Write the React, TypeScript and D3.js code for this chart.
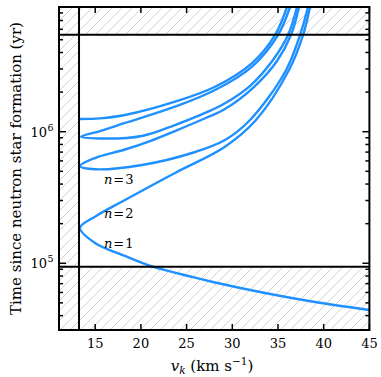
import React from 'react';
import * as d3 from 'd3';

// ---------- data ----------
const xTicks = [15, 20, 25, 30, 35, 40, 45];
const yMajorTicks = [1e5, 1e6];
const yMinorTicks = [4e4, 5e4, 6e4, 7e4, 8e4, 9e4, 2e5, 3e5, 4e5, 5e5, 6e5, 7e5, 8e5, 9e5, 2e6, 3e6, 4e6, 5e6, 6e6, 7e6, 8e6];
const xDomain = [11.04, 45];
const yDomain = [3.11e4, 8.87e6];

const vMin = 13.23; // vertical limit (km/s)
const tLow = 9.4e4; // lower age limit (yr)
const tHigh = 5.46e6; // upper age limit (yr)

// top curve (starts at the velocity limit)
const curveTopV = [13.34, 15.53, 18.26, 23.73, 28.11, 32.16, 34.67, 35.99];
const curveTopT = [1.249e6, 1.264e6, 1.339e6, 1.69e6, 2.197e6, 3.327e6, 5.43e6, 8.865e6];

// n = 3 curve (upper branch from top, vertex, lower branch back to top)
const curveN3V = [36.31, 35.0, 32.16, 28.11, 23.73, 18.26, 15.53, 13.45, 15.53, 20.12, 23.73, 27.34, 29.2, 32.05, 34.45, 36.1, 37.08];
const curveN3T = [8.865e6, 5.43e6, 3.129e6, 2.074e6, 1.549e6, 1.165e6, 1.012e6, 9.162e5, 8.878e5, 9.275e5, 1.124e6, 1.419e6, 1.644e6, 2.264e6, 3.506e6, 5.43e6, 8.865e6];

// n = 2 curve
const curveN2V = [37.3, 36.42, 34.89, 32.48, 29.2, 27.34, 23.73, 21.0, 18.26, 14.98, 13.34, 14.98, 20.12, 25.59, 29.2, 31.94, 35.77, 37.41, 38.28];
const curveN2T = [8.865e6, 5.43e6, 3.445e6, 2.225e6, 1.488e6, 1.293e6, 1.012e6, 8.498e5, 7.323e5, 6.31e5, 5.488e5, 5.181e5, 5.585e5, 6.888e5, 8.648e5, 1.227e6, 2.843e6, 5.43e6, 8.865e6];

// n = 1 curve (upper branch from top, vertex, lower branch to right edge)
const curveN1V = [38.5, 37.74, 36.2, 32.59, 29.2, 23.73, 18.26, 14.98, 13.34, 14.98, 18.26, 21.21, 25.59, 28.11, 33.58, 39.05, 45.0];
const curveN1T = [8.865e6, 5.43e6, 2.944e6, 1.227e6, 7.691e5, 4.857e5, 3.027e5, 2.261e5, 1.855e5, 1.426e5, 1.136e5, 9.456e4, 7.871e4, 7.147e4, 5.948e4, 5.08e4, 4.417e4];

const nLabels = ['3', '2', '1'];
const nLabelV = [15.96, 15.96, 15.96];
const nLabelT = [4.0e5, 2.21e5, 1.31e5];

// ---------- layout ----------
const W = 381;
const H = 377;
const left = 59;
const right = 369.4;
const top = 7;
const bottom = 330;
const BLUE = '#1e90ff';
const FONT = '"DejaVu Serif", serif';

export default function App() {
  const x = d3.scaleLinear().domain(xDomain).range([left, right]);
  const y = d3.scaleLog().domain(yDomain).range([bottom, top]);

  const line = d3
    .line<[number, number]>()
    .x((d) => x(d[0]))
    .y((d) => y(d[1]))
    .curve(d3.curveCatmullRom.alpha(0.5));

  const zip = (vs: number[], ts: number[]) => vs.map((v, i) => [v, ts[i]] as [number, number]);
  const curves = [
    zip(curveTopV, curveTopT),
    zip(curveN3V, curveN3T),
    zip(curveN2V, curveN2T),
    zip(curveN1V, curveN1T),
  ];

  const xv = x(vMin);
  const yl = y(tLow);
  const yh = y(tHigh);

  return (
    <svg width={W} height={H} style={{ position: 'absolute', left: 0, top: 0, background: '#fff' }} fontFamily={FONT}>
      <defs>
        <pattern id="hatch" patternUnits="userSpaceOnUse" width={10} height={10}>
          <path d="M0,10 L10,0 M-2.5,2.5 L2.5,-2.5 M7.5,12.5 L12.5,7.5" stroke="#c4c4c4" strokeWidth={0.8} />
        </pattern>
        <clipPath id="plot">
          <rect x={left} y={top} width={right - left} height={bottom - top} />
        </clipPath>
        <clipPath id="plotRight">
          <rect x={xv} y={top} width={right - xv} height={bottom - top} />
        </clipPath>
      </defs>
      <rect x={0} y={0} width={W} height={H} fill="#fff" />

      {/* hatched excluded regions */}
      <g clipPath="url(#plot)">
        <rect x={left} y={top} width={xv - left} height={bottom - top} fill="url(#hatch)" />
        <rect x={xv} y={yl} width={right - xv} height={bottom - yl} fill="url(#hatch)" />
        <rect x={xv} y={top} width={right - xv} height={yh - top} fill="url(#hatch)" />
      </g>

      {/* curves */}
      <g clipPath="url(#plotRight)">
        {curves.map((c, i) => (
          <path key={i} d={line(c) || ''} fill="none" stroke={BLUE} strokeWidth={2.4} strokeLinejoin="round" />
        ))}
      </g>

      {/* limit lines */}
      <line x1={xv} x2={xv} y1={top} y2={bottom} stroke="#000" strokeWidth={2} />
      <line x1={left} x2={right} y1={yl} y2={yl} stroke="#000" strokeWidth={2} />
      <line x1={left} x2={right} y1={yh} y2={yh} stroke="#000" strokeWidth={2} />

      {/* n labels */}
      {nLabels.map((s, i) => (
        <text key={s} x={x(nLabelV[i])} y={y(nLabelT[i])} fontSize={13}>
          <tspan fontStyle="italic">n</tspan>
          <tspan dx={1}>=</tspan>
          <tspan dx={1}>{s}</tspan>
        </text>
      ))}

      {/* ticks */}
      <g stroke="#000" strokeWidth={1.5}>
        {xTicks.map((t) => (
          <g key={t}>
            <line x1={x(t)} x2={x(t)} y1={bottom} y2={bottom - 6} />
            <line x1={x(t)} x2={x(t)} y1={top} y2={top + 6} />
          </g>
        ))}
        {yMajorTicks.map((t) => (
          <g key={t}>
            <line x1={left} x2={left + 7} y1={y(t)} y2={y(t)} />
            <line x1={right} x2={right - 7} y1={y(t)} y2={y(t)} />
          </g>
        ))}
        {yMinorTicks.map((t) => (
          <g key={t}>
            <line x1={left} x2={left + 4} y1={y(t)} y2={y(t)} />
            <line x1={right} x2={right - 4} y1={y(t)} y2={y(t)} />
          </g>
        ))}
      </g>

      {/* frame */}
      <rect x={left} y={top} width={right - left} height={bottom - top} fill="none" stroke="#000" strokeWidth={2} />

      {/* tick labels */}
      {xTicks.map((t) => (
        <text key={t} x={x(t)} y={bottom + 18} textAnchor="middle" fontSize={13}>
          {t}
        </text>
      ))}
      {yMajorTicks.map((t) => (
        <g key={t}>
          <text x={47} y={y(t) + 5} textAnchor="end" fontSize={13}>
            10
          </text>
          <text x={47.5} y={y(t) - 1} fontSize={9.5}>
            {Math.round(Math.log10(t))}
          </text>
        </g>
      ))}

      {/* axis labels */}
      <text x={212} y={371} textAnchor="middle" fontSize={15}>
        <tspan fontStyle="italic">v</tspan>
        <tspan fontStyle="italic" fontSize={10.5} dy={3}>k</tspan>
        <tspan dy={-3}> (km s</tspan>
        <tspan fontSize={10.5} dy={-6}>−1</tspan>
        <tspan dy={6}>)</tspan>
      </text>
      <text transform={`translate(20.5,${(top + bottom) / 2}) rotate(-90)`} textAnchor="middle" fontSize={15}>
        Time since neutron star formation (yr)
      </text>
    </svg>
  );
}
